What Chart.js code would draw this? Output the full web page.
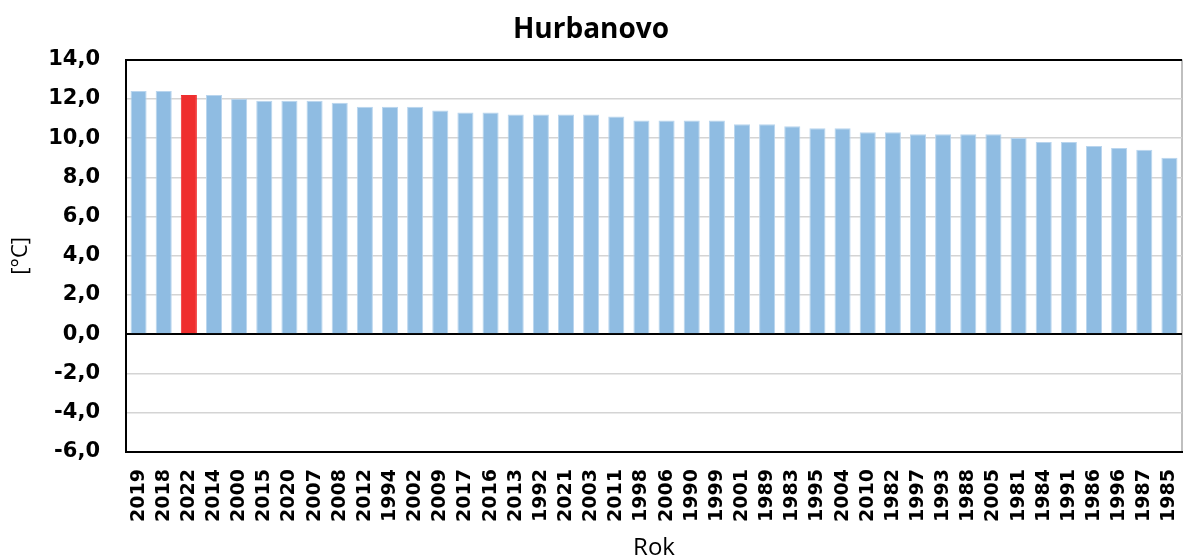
<!DOCTYPE html>
<html>
<head>
    <title>Hurbanovo</title>
    <script src="https://cdn.jsdelivr.net/npm/chart.js"></script>
    <style>
        body {
            margin: 0;
            background-color: #fff;
        }

        .chart-box {
            width: 1183px;
            height: 560px;
        }
    </style>
</head>
<body>
    <div class="chart-box">
        <canvas id="tempChart"></canvas>
    </div>

    <script>
        // Years sorted by mean annual temperature
        var years = ['2019', '2018', '2022', '2014', '2000', '2015', '2020', '2007', '2008', '2012',
                     '1994', '2002', '2009', '2017', '2016', '2013', '1992', '2021', '2003', '2011',
                     '1998', '2006', '1990', '1999', '2001', '1989', '1983', '1995', '2004', '2010',
                     '1982', '1997', '1993', '1988', '2005', '1981', '1984', '1991', '1986', '1996',
                     '1987', '1985'];
        var temps = [12.4, 12.4, 12.2, 12.2, 12.0, 11.9, 11.9, 11.9, 11.8, 11.6,
                     11.6, 11.6, 11.4, 11.3, 11.3, 11.2, 11.2, 11.2, 11.2, 11.1,
                     10.9, 10.9, 10.9, 10.9, 10.7, 10.7, 10.6, 10.5, 10.5, 10.3,
                     10.3, 10.2, 10.2, 10.2, 10.2, 10.0, 9.8, 9.8, 9.6, 9.5,
                     9.4, 9.0];
        var highlightYear = '2022';
        var yMin = -6;
        var yMax = 14;
        var yStep = 2;

        var blue = '#8fbce2';
        var red = '#ef2e2e';

        var barColors = years.map(function (y) { return y === highlightYear ? red : blue; });
        var barBorders = years.map(function (y) { return y === highlightYear ? red : '#b9d5ee'; });

        var ctx = document.getElementById('tempChart').getContext('2d');

        var tempChart = new Chart(ctx, {
            type: 'bar',
            data: {
                labels: years,
                datasets: [{
                    label: 'Hurbanovo',
                    data: temps,
                    backgroundColor: barColors,
                    borderColor: barBorders,
                    borderWidth: 1,
                    barPercentage: 0.64,
                    categoryPercentage: 1.0
                }]
            },
            options: {
                responsive: true,
                maintainAspectRatio: false,
                animation: false,
                layout: {
                    padding: { left: 0, right: 1, top: 0, bottom: 0 }
                },
                plugins: {
                    legend: { display: false },
                    tooltip: { enabled: false },
                    title: {
                        display: true,
                        text: 'Hurbanovo',
                        color: '#000',
                        font: { family: 'Open Sans', size: 28, weight: 'bold', lineHeight: 1.2 },
                        padding: { top: 13, bottom: 13 }
                    }
                },
                scales: {
                    x: {
                        grid: {
                            drawTicks: false,
                            // only the closing line on the right edge
                            color: function (c) { return c.type === 'scale' ? '#bfbfbf' : 'rgba(0,0,0,0)'; },
                            lineWidth: 2
                        },
                        border: { display: true, color: '#000', width: 2 },
                        ticks: {
                            autoSkip: false,
                            minRotation: 90,
                            maxRotation: 90,
                            padding: 17,
                            color: '#000',
                            font: { family: 'DejaVu Sans', size: 19, weight: 'bold' }
                        },
                        title: {
                            display: true,
                            text: 'Rok',
                            color: '#000',
                            font: { family: 'Open Sans', size: 24, lineHeight: 1 },
                            padding: { top: 0, bottom: 0 }
                        },
                        afterFit: function (s) {
                            s.height = 108;
                            s.paddingLeft = 0;
                            s.paddingRight = 0;
                        }
                    },
                    y: {
                        min: yMin,
                        max: yMax,
                        grid: {
                            drawTicks: false,
                            color: function (c) {
                                var v = c.tick ? c.tick.value : null;
                                return (v === 0 || v === yMax || v === yMin) ? '#000' : '#d4d4d4';
                            },
                            lineWidth: function (c) {
                                var v = c.tick ? c.tick.value : null;
                                return (v === 0 || v === yMax || v === yMin) ? 2 : 1.5;
                            }
                        },
                        border: { display: true, color: '#000', width: 2 },
                        ticks: {
                            stepSize: yStep,
                            padding: 26,
                            color: '#000',
                            font: { family: 'DejaVu Sans', size: 21, weight: 'bold' },
                            callback: function (v) { return v.toFixed(1).replace('.', ','); }
                        },
                        title: {
                            display: true,
                            text: '[°C]',
                            color: '#000',
                            font: { family: 'Open Sans', size: 22, lineHeight: 1 },
                            padding: { top: 10, bottom: 0 }
                        },
                        afterFit: function (s) {
                            s.width = 126;
                            s.paddingTop = 0;
                            s.paddingBottom = 0;
                        }
                    }
                }
            }
        });
    </script>
</body>
</html>
